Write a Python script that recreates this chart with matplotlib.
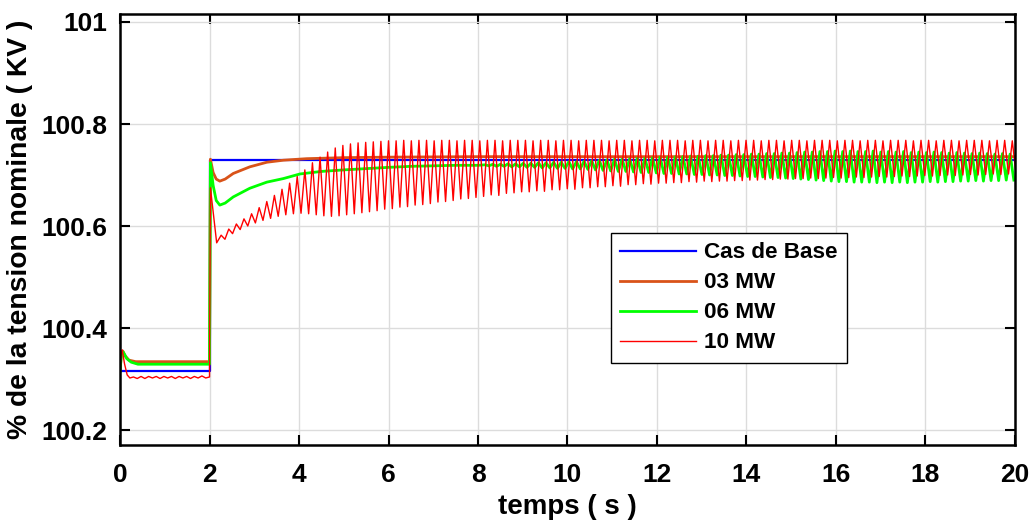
import numpy as np
import matplotlib
matplotlib.use("Agg")
import matplotlib.pyplot as plt

plt.rcParams['font.family'] = ['Liberation Sans', 'DejaVu Sans']

# ---------------- data ----------------
series_labels = ['Cas de Base', '03 MW', '06 MW', '10 MW']

# Cas de Base
base_t = [0.0, 2.0, 2.0, 20.0]
base_v = [100.316, 100.316, 100.729, 100.729]

# 03 MW
mw03_t = [0.0, 0.03, 0.06, 0.12, 0.2, 0.35, 2.0, 2.02, 2.08, 2.15, 2.23, 2.35,
          2.53, 2.9, 3.28, 3.65, 4.17, 5.0, 6.0, 8.0, 20.0]
mw03_v = [100.316, 100.348, 100.355, 100.345, 100.337, 100.334, 100.334, 100.731,
          100.705, 100.692, 100.688, 100.692, 100.703, 100.716, 100.725, 100.729,
          100.732, 100.734, 100.735, 100.736, 100.736]

# 06 MW : smooth part, then oscillation extremes
mw06_t = [0.0, 0.03, 0.07, 0.15, 0.25, 0.4, 2.0, 2.02, 2.08, 2.15, 2.23, 2.35,
          2.53, 2.9, 3.28, 3.65, 4.02, 4.5, 5.0, 6.0, 6.5, 7.0, 7.5, 8.0]
mw06_v = [100.316, 100.348, 100.353, 100.340, 100.333, 100.329, 100.329, 100.724,
          100.680, 100.650, 100.641, 100.645, 100.657, 100.674, 100.686, 100.693,
          100.702, 100.707, 100.710, 100.715, 100.717, 100.718, 100.719, 100.719]
mw06_first_peak = 8.16
mw06_peaks = [100.720, 100.721, 100.721, 100.722, 100.722, 100.723, 100.723, 100.724, 100.724, 100.725,
              100.725, 100.726, 100.726, 100.727, 100.728, 100.729, 100.730, 100.731, 100.731, 100.732,
              100.733, 100.733, 100.734, 100.735, 100.735, 100.736, 100.736, 100.737, 100.737, 100.738,
              100.738, 100.739, 100.739, 100.740, 100.740, 100.741, 100.741, 100.742, 100.742, 100.743,
              100.743, 100.744, 100.745, 100.745, 100.746, 100.746, 100.747, 100.746, 100.747, 100.746,
              100.746, 100.747, 100.745, 100.746, 100.745, 100.746, 100.744, 100.745, 100.744, 100.745,
              100.744, 100.743, 100.744, 100.743, 100.742, 100.743, 100.742, 100.741, 100.742, 100.741]
mw06_troughs = [100.718, 100.717, 100.717, 100.716, 100.716, 100.715, 100.715, 100.714, 100.714, 100.713,
                100.713, 100.712, 100.712, 100.711, 100.710, 100.709, 100.708, 100.707, 100.707, 100.706,
                100.705, 100.705, 100.704, 100.703, 100.703, 100.702, 100.702, 100.701, 100.701, 100.700,
                100.700, 100.699, 100.699, 100.698, 100.697, 100.697, 100.696, 100.695, 100.695, 100.694,
                100.693, 100.692, 100.691, 100.690, 100.689, 100.688, 100.687, 100.687, 100.686, 100.686,
                100.686, 100.685, 100.686, 100.685, 100.686, 100.685, 100.686, 100.686, 100.687, 100.686,
                100.687, 100.687, 100.688, 100.688, 100.689, 100.688, 100.689, 100.689, 100.690, 100.690]

# 10 MW : pre-step part with small ripples, then oscillation extremes
mw10_t = [0.0, 0.02, 0.05, 0.1, 0.16, 0.22, 0.30, 0.385, 0.47, 0.555, 0.64, 0.725,
          0.81, 0.895, 0.98, 1.065, 1.15, 1.235, 1.32, 1.405, 1.49, 1.575, 1.66,
          1.745, 1.83, 1.915, 2.0, 2.02, 2.16]
mw10_v = [100.316, 100.345, 100.357, 100.330, 100.308, 100.302, 100.304, 100.301,
          100.305, 100.301, 100.305, 100.302, 100.305, 100.301, 100.305, 100.302,
          100.305, 100.301, 100.305, 100.302, 100.305, 100.301, 100.305, 100.302,
          100.306, 100.302, 100.304, 100.675, 100.567]
mw10_first_peak = 2.26
osc_period = 0.17
mw10_peaks = [100.582, 100.594, 100.604, 100.614, 100.624, 100.636, 100.648, 100.660, 100.672, 100.684,
              100.697, 100.710, 100.724, 100.735, 100.745, 100.753, 100.758, 100.761, 100.763, 100.764,
              100.765, 100.766, 100.767, 100.767, 100.768, 100.767, 100.768, 100.768, 100.767, 100.768,
              100.768, 100.767, 100.768, 100.768, 100.767, 100.768, 100.768, 100.767, 100.768, 100.768,
              100.768, 100.767, 100.768, 100.768, 100.767, 100.768, 100.768, 100.767, 100.768, 100.768,
              100.768, 100.767, 100.768, 100.768, 100.767, 100.768, 100.768, 100.767, 100.768, 100.768,
              100.768, 100.767, 100.768, 100.768, 100.767, 100.768, 100.768, 100.767, 100.768, 100.768,
              100.768, 100.767, 100.768, 100.768, 100.767, 100.768, 100.768, 100.767, 100.768, 100.768,
              100.768, 100.767, 100.768, 100.768, 100.767, 100.768, 100.768, 100.767, 100.768, 100.768,
              100.768, 100.767, 100.768, 100.768, 100.767, 100.768, 100.768, 100.767, 100.768, 100.768,
              100.768, 100.767, 100.768, 100.768, 100.767]
mw10_troughs = [100.574, 100.585, 100.593, 100.600, 100.606, 100.611, 100.615, 100.619, 100.622, 100.624,
                100.625, 100.624, 100.622, 100.620, 100.619, 100.620, 100.622, 100.624, 100.626, 100.628,
                100.630, 100.633, 100.634, 100.637, 100.638, 100.641, 100.642, 100.644, 100.647, 100.648,
                100.650, 100.653, 100.654, 100.656, 100.658, 100.661, 100.660, 100.664, 100.665, 100.667,
                100.667, 100.669, 100.668, 100.671, 100.671, 100.673, 100.672, 100.675, 100.675, 100.677,
                100.677, 100.679, 100.678, 100.681, 100.681, 100.683, 100.682, 100.684, 100.684, 100.685,
                100.685, 100.687, 100.686, 100.688, 100.687, 100.688, 100.688, 100.689, 100.689, 100.690,
                100.690, 100.691, 100.691, 100.692, 100.692, 100.693, 100.693, 100.694, 100.693, 100.694,
                100.695, 100.694, 100.695, 100.696, 100.695, 100.696, 100.697, 100.696, 100.697, 100.698,
                100.697, 100.698, 100.699, 100.698, 100.699, 100.700, 100.699, 100.700, 100.701, 100.700,
                100.701, 100.702, 100.701, 100.702, 100.702]

x_ticks = [0, 2, 4, 6, 8, 10, 12, 14, 16, 18, 20]
x_tick_labels = ['0', '2', '4', '6', '8', '10', '12', '14', '16', '18', '20']
y_ticks = [100.2, 100.4, 100.6, 100.8, 101.0]
y_tick_labels = ['100.2', '100.4', '100.6', '100.8', '101']


def with_oscillation(t0, v0, first_peak, peaks, troughs, period):
    n = len(peaks)
    tp = first_peak + period * np.arange(n)
    tt = tp + period / 2.0
    t = np.column_stack([tp, tt]).ravel()
    v = np.column_stack([peaks, troughs]).ravel()
    return np.concatenate([t0, t]), np.concatenate([v0, v])


t06, v06 = with_oscillation(mw06_t, mw06_v, mw06_first_peak, mw06_peaks, mw06_troughs, osc_period)
t10, v10 = with_oscillation(mw10_t, mw10_v, mw10_first_peak, mw10_peaks, mw10_troughs, osc_period)

# ---------------- figure ----------------
fig = plt.figure(figsize=(10.32, 5.22), dpi=100)
ax = fig.add_axes([0.1163, 0.1475, 0.8672, 0.8257])

ax.plot(base_t, base_v, color='#0000FF', lw=1.6, label=series_labels[0])
ax.plot(mw03_t, mw03_v, color='#D95319', lw=2.0, label=series_labels[1])
ax.plot(t06, v06, color='#00FF00', lw=2.0, label=series_labels[2])
ax.plot(t10, v10, color='#FF0000', lw=1.0, label=series_labels[3])

ax.set_xlim(0, 20)
ax.set_ylim(100.1706, 101.0157)
ax.set_xticks(x_ticks)
ax.set_xticklabels(x_tick_labels)
ax.set_yticks(y_ticks)
ax.set_yticklabels(y_tick_labels)

ax.grid(True, color='#dcdcdc', lw=1.0)
ax.set_axisbelow(True)
for s in ax.spines.values():
    s.set_linewidth(1.8)
ax.tick_params(direction='in', length=7, width=1.5, top=True, right=True,
               labelsize=19)
ax.tick_params(axis='x', pad=13)
ax.tick_params(axis='y', pad=9)
for lab in ax.get_xticklabels() + ax.get_yticklabels():
    lab.set_fontweight('bold')

ax.set_xlabel('temps ( s )', fontsize=20, fontweight='bold', labelpad=5)
ax.set_ylabel('% de la tension nominale ( KV )', fontsize=20.3, fontweight='bold', labelpad=6)

leg = ax.legend(loc='upper left', bbox_to_anchor=(0.5486, 0.492), borderaxespad=0,
                prop={'weight': 'bold', 'size': 16.2}, handlelength=3.35, handletextpad=0.35,
                labelspacing=0.4, borderpad=0.42, fancybox=False, framealpha=1)
leg.get_frame().set_edgecolor('black')
leg.get_frame().set_linewidth(1.0)

fig.savefig('out.png', dpi=100)
